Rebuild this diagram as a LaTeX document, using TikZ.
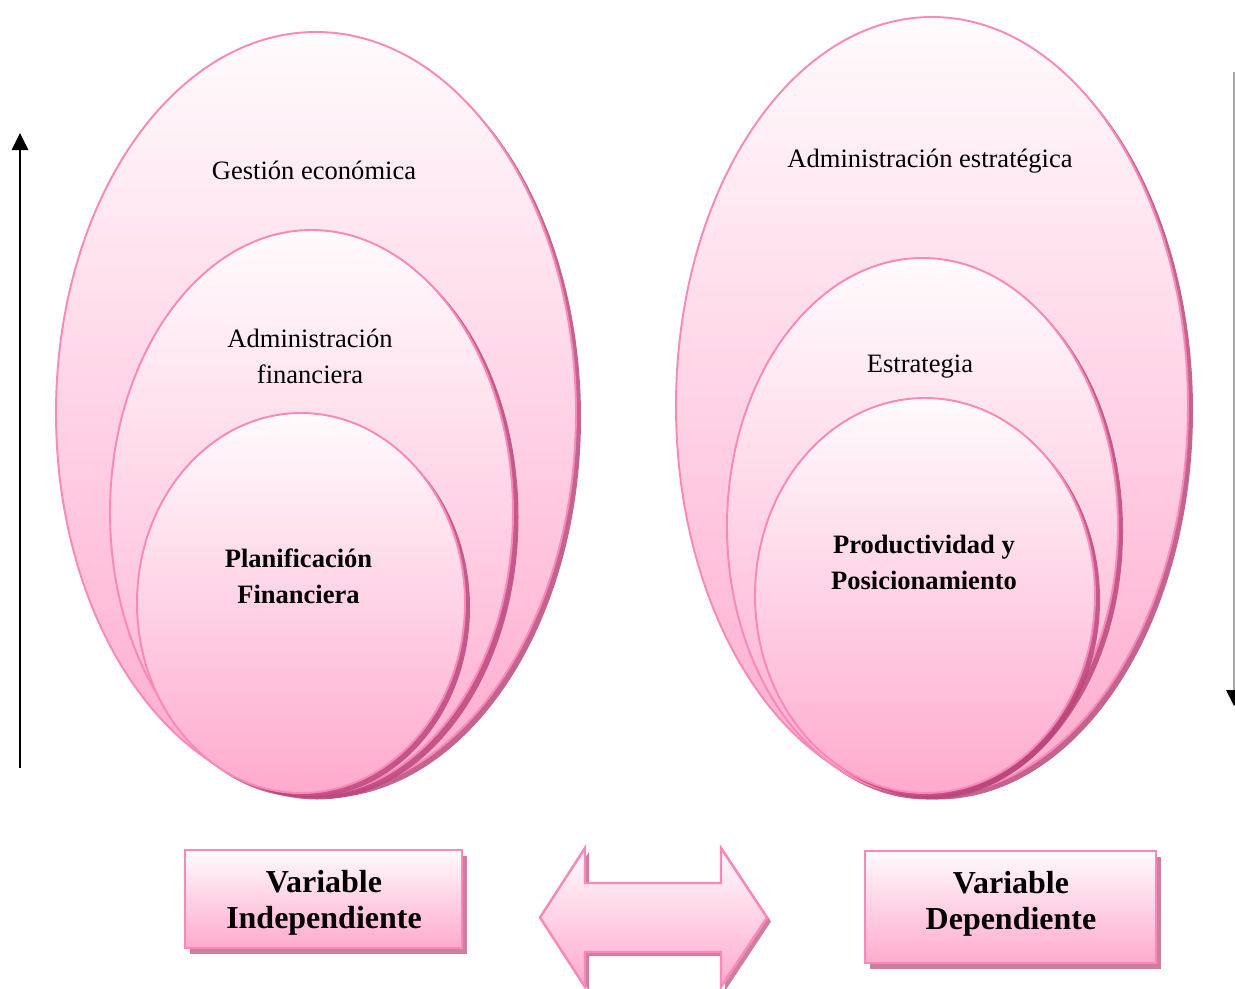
\documentclass[tikz,border=0pt]{standalone}
\usepackage{fontspec}
\setmainfont{Liberation Serif}
\definecolor{rimpink}{RGB}{250,136,184}
\definecolor{toppink}{RGB}{255,251,253}
\definecolor{botpink}{RGB}{255,170,205}
\definecolor{bubshade}{RGB}{186,70,124}
\definecolor{boxshade}{RGB}{206,126,160}
\definecolor{railgray}{RGB}{165,165,165}
\tikzset{
  bubble/.style={top color=toppink, bottom color=botpink, draw=rimpink, line width=1.1pt},
  bubshadow/.style={fill=bubshade, opacity=0.85},
  varbox/.style={top color=toppink, bottom color=botpink, draw=rimpink, line width=1.4pt},
  boxshadow/.style={fill=boxshade},
  txt/.style={font=\fontsize{15.1}{20.5}\selectfont, align=center},
  bigtxt/.style={font=\fontsize{18.2}{20.8}\selectfont\bfseries, align=center}
}
\begin{document}
\begin{tikzpicture}[scale=0.2]
\tikzstyle{every node}+=[inner sep=0pt]
\useasboundingbox (0,0) rectangle (123.5,-98.8);
% left group
\fill [bubshadow] (32.1,-41.75) ellipse (26 and 38.1);
\path [bubble] (31.6,-41.3) ellipse (26 and 38.1);
\fill [bubshadow] (31.7,-51.7) ellipse (20.15 and 28.25);
\path [bubble] (31.15,-51.25) ellipse (20.15 and 28.25);
\fill [bubshadow] (30.6,-60.75) ellipse (16.4 and 19);
\path [bubble] (30.1,-60.3) ellipse (16.4 and 19);
\node [txt] (gestion) at (31.4,-17.0) {Gestión económica};
\node [txt] (adminfin) at (31.0,-35.6) {Administración\\financiera};
\node [txt,font=\fontsize{15.1}{20.5}\selectfont\bfseries] (planif) at (29.85,-57.6) {Planificación\\Financiera};
% right group
\fill [bubshadow] (93.7,-41.05) ellipse (25.6 and 38.9);
\path [bubble] (93.2,-40.6) ellipse (25.6 and 38.9);
\fill [bubshadow] (92.75,-53.1) ellipse (19.55 and 26.85);
\path [bubble] (92.25,-52.65) ellipse (19.55 and 26.85);
\fill [bubshadow] (93.0,-60.0) ellipse (17 and 19.75);
\path [bubble] (92.5,-59.55) ellipse (17 and 19.75);
\node [txt] (adminest) at (93.0,-16.1) {Administración estratégica};
\node [txt] (estrat) at (92.0,-36.7) {Estrategia};
\node [txt,font=\fontsize{15.1}{20.5}\selectfont\bfseries] (product) at (92.4,-56.2) {Productividad y\\Posicionamiento};
% vertical arrows
\coordinate (riselow) at (2.0,-76.8);
\coordinate (risehigh) at (2.0,-14.9);
\draw [black, line width=1.5pt] (riselow) -- (risehigh);
\fill [black] (2.0,-13.3) -- (2.85,-15.0) -- (1.15,-15.0) -- cycle;
\coordinate (fallhigh) at (123.4,-7.2);
\coordinate (falllow) at (123.4,-69.0);
\draw [railgray, line width=0.9pt] (fallhigh) -- (falllow);
\fill [black] (122.6,-69.0) -- (124.2,-69.0) -- (123.4,-70.6) -- cycle;
% bottom boxes
\fill [boxshadow] (19.0,-85.6) rectangle (46.7,-95.4);
\path [varbox] (18.5,-85.0) rectangle (46.2,-94.8);
\node [bigtxt] (vindep) at (32.4,-90.3) {Variable\\Independiente};
\fill [boxshadow] (87.0,-85.7) rectangle (116.1,-96.9);
\path [varbox] (86.5,-85.1) rectangle (115.6,-96.3);
\node [bigtxt] (vdep) at (101.1,-90.4) {Variable\\Dependiente};
% double arrow
\fill [boxshadow] (54.4,-92.15) -- (58.9,-85.2) -- (58.9,-88.7) -- (72.5,-88.7) -- (72.5,-85.2) -- (77.1,-92.15) -- (72.5,-99.1) -- (72.5,-95.6) -- (58.9,-95.6) -- (58.9,-99.1) -- cycle;
\path [varbox] (54.0,-91.75) -- (58.5,-84.8) -- (58.5,-88.3) -- (72.1,-88.3) -- (72.1,-84.8) -- (76.7,-91.75) -- (72.1,-98.7) -- (72.1,-95.2) -- (58.5,-95.2) -- (58.5,-98.7) -- cycle;
\end{tikzpicture}
\end{document}
